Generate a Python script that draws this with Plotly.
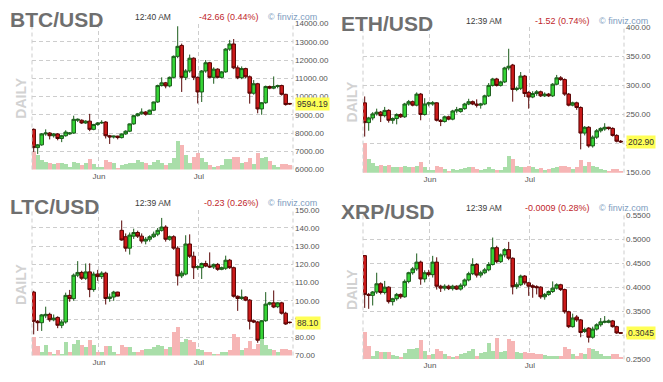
import plotly.graph_objects as go

W, H = 663, 382

# ---------------- data (65 daily candles) ----------------
month_ticks = [16.3, 41.3]
month_labels = ["Jun", "Jul"]

btc_open = [8200, 7200, 7350, 7950, 8000, 7850, 7950, 7700, 7850, 7950, 8000, 8700, 8700, 8550, 8650, 8200, 8470, 8550,
            8600, 7850, 7780, 7830, 7750, 7950, 8100, 8500, 8950, 9050, 9150, 9030, 9250, 9700, 10600, 10750, 10580, 11050,
            12200, 12800, 11050, 11400, 12100, 11050, 10250, 11400, 11850, 11050, 11500, 11050, 11350, 12600, 12880, 11570,
            11030, 11530, 11080, 10180, 10700, 9320, 9660, 10550, 10460, 10550, 10600, 10120, 9620]
btc_high = [8250, 7400, 8000, 8200, 8050, 8000, 8000, 7900, 8150, 8050, 8950, 8800, 8750, 8700, 9050, 8500, 8600, 8700,
            8650, 7900, 7850, 7850, 7980, 8150, 8520, 8980, 9100, 9350, 9200, 9280, 9720, 10650, 11050, 10800, 11100, 12250,
            13850, 12900, 11500, 12300, 12150, 11100, 11450, 12000, 11900, 11600, 11550, 11400, 12650, 13100, 13150, 11700,
            11650, 11580, 11150, 10900, 10750, 9700, 10600, 10600, 11100, 10650, 10650, 10150, 9650]
btc_low = [6150, 6850, 7300, 7850, 7650, 7750, 7600, 7500, 7800, 7900, 7950, 8600, 8500, 8500, 8100, 8150, 8400, 8500,
           7700, 7400, 7700, 7650, 7700, 7900, 8050, 8450, 8900, 9000, 8950, 9000, 9200, 9650, 10550, 10450, 10500, 11000,
           12100, 10250, 10900, 11300, 10900, 9620, 9700, 11300, 11000, 10700, 11000, 11000, 11300, 12500, 11500, 10950,
           10950, 11000, 9610, 10100, 9080, 9000, 9600, 10400, 10400, 10450, 10050, 9500, 9540]
btc_close = [7200, 7350, 7950, 8000, 7850, 7950, 7700, 7850, 8050, 8000, 8750, 8750, 8550, 8650, 8200, 8470, 8550, 8580,
             7850, 7780, 7830, 7750, 7950, 8100, 8500, 8950, 9050, 9150, 9030, 9250, 9700, 10600, 10750, 10580, 11050, 12200,
             12750, 11050, 11400, 12100, 11050, 10250, 11400, 11850, 11050, 11500, 11050, 11350, 12600, 12880, 11570, 11030,
             11530, 11080, 10180, 10700, 9320, 9660, 10550, 10460, 10550, 10600, 10120, 9560, 9594.19]
btc_volume = [18, 15, 10, 8, 7, 6, 7, 7, 6, 3, 8, 7, 5, 7, 11, 6, 3, 3, 10, 8, 7, 2, 5, 6, 7, 7, 10, 8, 7, 5, 8, 10, 7, 5,
              7, 12, 29, 25, 15, 7, 13, 17, 12, 8, 5, 3, 4, 5, 11, 11, 13, 13, 7, 8, 12, 6, 17, 12, 13, 9, 5, 3, 6, 6, 5]

eth_open = [270, 236, 244, 251, 254, 248, 257, 240, 243, 250, 246, 268, 272, 266, 285, 250, 268, 268, 270, 240, 238, 246,
            242, 256, 255, 260, 268, 272, 268, 266, 268, 282, 300, 311, 300, 306, 330, 335, 293, 295, 316, 288, 280, 286,
            289, 282, 285, 282, 302, 313, 310, 285, 266, 270, 262, 218, 228, 196, 211, 222, 225, 228, 226, 214, 204]
eth_high = [281, 246, 254, 260, 256, 263, 259, 245, 252, 252, 270, 275, 274, 288, 287, 278, 272, 273, 271, 242, 248, 248,
            258, 263, 261, 270, 277, 274, 276, 270, 284, 304, 313, 313, 308, 332, 363, 337, 298, 323, 318, 290, 290, 292,
            291, 288, 287, 304, 318, 316, 312, 287, 272, 272, 264, 230, 230, 214, 225, 228, 235, 229, 228, 216, 206]
eth_low = [212, 222, 240, 248, 237, 245, 236, 234, 233, 244, 244, 265, 264, 264, 240, 248, 264, 265, 238, 230, 236, 240,
           240, 252, 253, 258, 266, 266, 262, 260, 266, 280, 298, 298, 298, 304, 326, 272, 290, 292, 280, 260, 278, 282,
           280, 280, 280, 280, 300, 308, 282, 264, 264, 258, 190, 214, 193, 193, 208, 219, 222, 223, 212, 202, 201]
eth_close = [236, 244, 251, 254, 248, 257, 240, 243, 250, 246, 268, 272, 266, 285, 250, 268, 270, 270, 240, 238, 246, 242,
             256, 258, 260, 268, 272, 268, 266, 268, 282, 300, 311, 300, 306, 330, 333, 293, 295, 316, 286, 280, 286, 289,
             282, 285, 282, 302, 313, 310, 285, 266, 270, 262, 218, 228, 196, 211, 222, 226, 228, 226, 214, 204, 202.90]
eth_volume = [30, 14, 10, 7, 8, 7, 8, 6, 6, 6, 7, 6, 6, 7, 11, 6, 3, 3, 7, 6, 4, 2, 4, 3, 4, 5, 6, 6, 4, 3, 4, 6, 4, 3,
              3, 6, 17, 14, 7, 6, 6, 7, 6, 4, 5, 3, 4, 5, 6, 7, 7, 6, 4, 6, 13, 7, 11, 7, 6, 4, 3, 2, 4, 4, 2]

ltc_open = [104.8, 88.8, 88.0, 91.8, 92.6, 89.6, 90.9, 86.6, 88.4, 103.0, 101.2, 114.1, 115.6, 112.4, 115.9, 106.2, 114.7,
            113.3, 115.2, 101.3, 102.1, 104.8, 138.7, 135.2, 128.9, 135.5, 137.5, 135.5, 132.8, 133.8, 135.2, 136.6, 138.7,
            140.5, 133.8, 135.2, 128.9, 113.7, 114.7, 131.2, 124.5, 118.2, 118.2, 120.5, 119.1, 118.6, 120.0, 117.3, 117.9,
            122.3, 118.2, 102.5, 101.3, 102.1, 100.4, 89.1, 88.4, 78.4, 89.1, 98.2, 98.9, 96.8, 98.9, 93.2, 88.3]
ltc_high = [105.5, 89.5, 92.8, 96.8, 93.5, 92.5, 91.5, 89.5, 104.5, 106.0, 115.0, 121.8, 116.5, 120.5, 120.6, 116.0, 117.0,
            116.2, 116.0, 104.0, 105.5, 105.0, 144.1, 137.0, 137.5, 139.6, 138.5, 137.0, 135.0, 136.0, 138.0, 140.0, 145.5,
            141.5, 135.8, 136.0, 130.0, 116.5, 136.0, 136.5, 127.0, 119.5, 121.0, 122.0, 126.6, 120.5, 120.8, 118.8, 124.8,
            123.0, 118.8, 103.0, 106.2, 102.6, 101.0, 89.8, 89.0, 89.5, 104.8, 99.5, 105.7, 99.3, 99.5, 94.0, 88.6]
ltc_low = [81.6, 83.5, 83.5, 90.5, 88.5, 88.8, 85.0, 85.0, 87.5, 99.5, 100.0, 113.0, 111.5, 111.5, 102.0, 105.0, 111.0,
           112.0, 98.0, 99.5, 100.0, 102.5, 133.0, 127.0, 125.4, 134.0, 134.5, 131.5, 131.0, 132.5, 134.5, 135.5, 138.0,
           132.5, 133.0, 128.0, 108.4, 112.5, 114.0, 123.5, 112.0, 117.0, 112.0, 118.5, 118.0, 117.5, 116.5, 116.8, 117.0,
           117.5, 101.8, 94.5, 100.5, 99.8, 84.3, 87.8, 77.0, 77.5, 88.5, 97.5, 96.0, 96.0, 92.5, 86.8, 87.5]
ltc_close = [88.8, 88.0, 92.3, 92.6, 89.6, 90.5, 86.6, 88.4, 103.0, 101.2, 114.1, 115.6, 112.4, 115.9, 106.2, 114.7, 113.3,
             115.2, 101.3, 102.1, 104.8, 102.6, 133.4, 128.9, 136.1, 137.5, 135.5, 132.8, 133.8, 135.2, 136.6, 138.7,
             140.5, 133.8, 135.2, 128.9, 113.7, 115.2, 131.2, 124.5, 118.2, 118.8, 120.5, 119.1, 118.6, 120.0, 117.3,
             118.2, 122.3, 118.2, 102.5, 101.3, 102.1, 100.4, 88.8, 88.4, 78.4, 89.1, 98.2, 98.9, 96.6, 98.9, 93.2, 87.3,
             88.10]
ltc_volume = [19, 10, 4, 11, 4, 2, 6, 2, 14, 4, 12, 16, 11, 9, 16, 11, 4, 4, 10, 10, 4, 2, 11, 9, 9, 4, 4, 6, 7, 7, 9,
              11, 10, 7, 9, 24, 29, 14, 17, 16, 14, 7, 6, 4, 4, 2, 2, 4, 4, 6, 22, 19, 6, 8, 15, 7, 12, 17, 11, 7, 6, 4,
              7, 7, 6]

xrp_open = [0.4655, 0.385, 0.383, 0.390, 0.407, 0.389, 0.400, 0.370, 0.376, 0.385, 0.380, 0.412, 0.430, 0.438, 0.452,
            0.417, 0.430, 0.426, 0.452, 0.402, 0.398, 0.402, 0.397, 0.402, 0.396, 0.404, 0.415, 0.428, 0.447, 0.425,
            0.430, 0.436, 0.447, 0.482, 0.453, 0.467, 0.478, 0.460, 0.401, 0.405, 0.423, 0.409, 0.403, 0.401, 0.400,
            0.380, 0.385, 0.391, 0.398, 0.405, 0.395, 0.349, 0.318, 0.338, 0.332, 0.308, 0.315, 0.296, 0.313, 0.322,
            0.327, 0.327, 0.330, 0.318, 0.3055]
xrp_high = [0.4660, 0.388, 0.392, 0.430, 0.410, 0.413, 0.402, 0.378, 0.388, 0.387, 0.416, 0.432, 0.442, 0.470, 0.455,
            0.435, 0.436, 0.465, 0.462, 0.405, 0.406, 0.405, 0.405, 0.404, 0.408, 0.418, 0.432, 0.460, 0.450, 0.434,
            0.440, 0.452, 0.503, 0.486, 0.470, 0.481, 0.494, 0.462, 0.410, 0.426, 0.425, 0.411, 0.406, 0.404, 0.402,
            0.388, 0.393, 0.412, 0.408, 0.407, 0.397, 0.351, 0.345, 0.342, 0.334, 0.316, 0.317, 0.318, 0.325, 0.336,
            0.340, 0.333, 0.332, 0.320, 0.3065]
xrp_low = [0.357, 0.355, 0.362, 0.386, 0.385, 0.385, 0.366, 0.362, 0.372, 0.376, 0.378, 0.408, 0.426, 0.434, 0.405,
           0.410, 0.422, 0.420, 0.395, 0.390, 0.393, 0.394, 0.393, 0.394, 0.393, 0.400, 0.412, 0.425, 0.420, 0.420,
           0.427, 0.433, 0.445, 0.450, 0.450, 0.462, 0.456, 0.385, 0.396, 0.402, 0.405, 0.382, 0.378, 0.385, 0.376,
           0.374, 0.382, 0.388, 0.395, 0.392, 0.345, 0.315, 0.316, 0.328, 0.296, 0.305, 0.285, 0.293, 0.310, 0.318,
           0.325, 0.325, 0.316, 0.303, 0.303]
xrp_close = [0.385, 0.383, 0.390, 0.407, 0.389, 0.400, 0.370, 0.376, 0.385, 0.380, 0.412, 0.430, 0.438, 0.452, 0.417,
             0.430, 0.426, 0.452, 0.402, 0.398, 0.402, 0.397, 0.402, 0.396, 0.404, 0.415, 0.428, 0.447, 0.425, 0.430,
             0.436, 0.447, 0.482, 0.453, 0.467, 0.478, 0.460, 0.401, 0.405, 0.423, 0.409, 0.402, 0.400, 0.399, 0.380,
             0.385, 0.391, 0.398, 0.405, 0.395, 0.349, 0.318, 0.336, 0.332, 0.306, 0.312, 0.296, 0.313, 0.322, 0.328,
             0.329, 0.330, 0.318, 0.305, 0.3045]
xrp_volume = [28, 14, 4, 9, 8, 8, 8, 5, 4, 2, 7, 11, 11, 12, 20, 9, 5, 6, 11, 9, 6, 3, 2, 4, 6, 7, 9, 11, 4, 7, 8, 17,
              9, 22, 8, 9, 21, 19, 8, 7, 8, 7, 7, 6, 6, 5, 4, 3, 4, 3, 13, 11, 6, 4, 7, 6, 12, 11, 9, 6, 4, 3, 6, 6, 2]

titles = ["BTC/USD", "ETH/USD", "LTC/USD", "XRP/USD"]
times = ["12:40 AM", "12:39 AM", "12:39 AM", "12:39 AM"]
changes = ["-42.66 (0.44%)", "-1.52 (0.74%)", "-0.23 (0.26%)", "-0.0009 (0.28%)"]
last_labels = ["9594.19", "202.90", "88.10", "0.3045"]
y_ranges = [(6000, 14000), (150, 400), (70, 150), (0.25, 0.55)]
y_dticks = [1000, 50, 10, 0.05]
y_formats = [".2f", ".2f", ".2f", ".4f"]

# ---------------- layout in pixels ----------------
FONT = "Liberation Sans, Arial, sans-serif"
GRID = "#cdcdcd"
panels = [
    dict(ox=0, top=20.0, bottom=169.5),
    dict(ox=331, top=23.8, bottom=172.7),
    dict(ox=0, top=210.7, bottom=360.0),
    dict(ox=331, top=216.0, bottom=364.0),
]
series = [
    (btc_open, btc_high, btc_low, btc_close, btc_volume),
    (eth_open, eth_high, eth_low, eth_close, eth_volume),
    (ltc_open, ltc_high, ltc_low, ltc_close, ltc_volume),
    (xrp_open, xrp_high, xrp_low, xrp_close, xrp_volume),
]

fig = go.Figure()
layout = dict(
    width=W, height=H, margin=dict(l=0, r=0, t=0, b=0),
    paper_bgcolor="white", plot_bgcolor="white", showlegend=False,
    hovermode=False, boxgap=0.12, boxgroupgap=0, bargap=0,
    font=dict(family=FONT, size=8, color="#555555"),
)
annotations = []
shapes = []

for k, (pan, (o, h, l, c, v)) in enumerate(zip(panels, series)):
    n = k + 1
    xa = "x" if n == 1 else f"x{n}"
    ya = "y" if n == 1 else f"y{n}"
    yv = f"y{n + 4}"
    idx = list(range(len(o)))
    x0, x1 = pan["ox"] + 32, pan["ox"] + 293
    top, bot = pan["top"], pan["bottom"]
    dom_y = [1 - bot / H, 1 - top / H]

    vcolors = ["#a9dea9" if cc >= oo else "#f6b5b5" for oo, cc in zip(o, c)]
    fig.add_trace(go.Bar(x=idx, y=v, marker=dict(color=vcolors, line=dict(width=0)),
                         width=1.0, xaxis=xa, yaxis=yv, hoverinfo="skip"))
    fig.add_trace(go.Candlestick(
        x=idx, open=o, high=h, low=l, close=c, xaxis=xa, yaxis=ya, whiskerwidth=0,
        increasing=dict(line=dict(color="#1b5c1b", width=1), fillcolor="#36d636"),
        decreasing=dict(line=dict(color="#580404", width=1), fillcolor="#cc1a1a"),
        hoverinfo="skip"))

    layout["xaxis" if n == 1 else f"xaxis{n}"] = dict(
        domain=[x0 / W, x1 / W], range=[-0.425, len(o) - 0.175], anchor=ya,
        tickmode="array", tickvals=month_ticks, ticktext=month_labels,
        showgrid=True, gridcolor=GRID, griddash="4px,3px", gridwidth=1,
        zeroline=False, showline=False, ticks="", ticklabelstandoff=0,
        tickfont=dict(size=8, color="#555555"), rangeslider=dict(visible=False), fixedrange=True)
    lo, hi = y_ranges[k]
    layout["yaxis" if n == 1 else f"yaxis{n}"] = dict(
        domain=dom_y, range=[lo, hi], anchor=xa, side="right",
        tickmode="linear", tick0=lo, dtick=y_dticks[k], tickformat=y_formats[k],
        showgrid=True, gridcolor=GRID, griddash="4px,3px", gridwidth=1,
        zeroline=False, showline=False, ticks="", ticklabelstandoff=1,
        tickfont=dict(size=8, color="#555555"), fixedrange=True)
    layout[f"yaxis{n + 4}"] = dict(
        overlaying=ya, anchor=xa, range=[0, bot - top], visible=False, fixedrange=True)

    # dashed frame sides
    for xd in (0, 1):
        shapes.append(dict(type="line", xref=f"{xa} domain", yref=f"{ya} domain",
                           x0=xd, x1=xd, y0=0, y1=1,
                           line=dict(color=GRID, width=1, dash="4px,3px")))

    ox = pan["ox"]
    annotations += [
        dict(text=f"<b>{titles[k]}</b>", x=(ox + 7.5) / W, y=1 - (top - 3.8) / H, xref="paper", yref="paper",
             xanchor="left", yanchor="middle", showarrow=False,
             font=dict(family=FONT, size=21, color="#6f6f6f")),
        dict(text=times[k], x=(ox + 132.5) / W, y=1 - (top - 6.8) / H, xref="paper", yref="paper",
             xanchor="left", yanchor="middle", showarrow=False,
             font=dict(family=FONT, size=8.5, color="#3a3a3a")),
        dict(text=changes[k], x=(ox + 261) / W, y=1 - (top - 6.8) / H, xref="paper", yref="paper",
             xanchor="right", yanchor="middle", showarrow=False,
             font=dict(family=FONT, size=9, color="#c0262c")),
        dict(text="© finviz.com", x=(ox + 266) / W, y=1 - (top - 6.8) / H, xref="paper", yref="paper",
             xanchor="left", yanchor="middle", showarrow=False,
             font=dict(family=FONT, size=9, color="#7d9cc0")),
        dict(text="<b>DAILY</b>", x=(ox + 21) / W, y=1 - (top + 77) / H, xref="paper", yref="paper",
             xanchor="center", yanchor="middle", textangle=-90, showarrow=False,
             font=dict(family=FONT, size=14, color="#d2d2d2")),
        dict(text=last_labels[k], x=(ox + 294.5) / W, y=c[-1], xref="paper", yref=ya,
             xanchor="left", yanchor="middle", showarrow=False, bgcolor="#ffff55", borderpad=1,
             font=dict(family=FONT, size=8.5, color="#333333")),
    ]

layout["annotations"] = annotations
layout["shapes"] = shapes
fig.update_layout(**layout)
fig.write_html("out.html", config={"staticPlot": True},
               post_script="document.body.style.margin='0';document.body.style.overflow='hidden';")
